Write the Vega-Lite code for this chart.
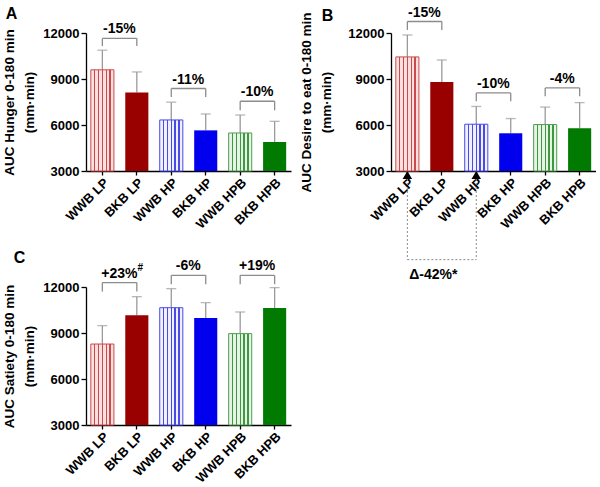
{
  "$schema": "https://vega.github.io/schema/vega-lite/v6.json",
  "padding": {"left": 2, "top": 5, "right": 0, "bottom": 0},
  "background": "white",
  "datasets": {
    "bars": [
      {"panel": "A", "group": "WWB LP", "value": 9600, "upper": 10880},
      {"panel": "A", "group": "BKB LP", "value": 8120, "upper": 9460},
      {"panel": "A", "group": "WWB HP", "value": 6330, "upper": 7490},
      {"panel": "A", "group": "BKB HP", "value": 5650, "upper": 6720},
      {"panel": "A", "group": "WWB HPB", "value": 5480, "upper": 6650},
      {"panel": "A", "group": "BKB HPB", "value": 4890, "upper": 6240},
      {"panel": "B", "group": "WWB LP", "value": 10440, "upper": 11870},
      {"panel": "B", "group": "BKB LP", "value": 8800, "upper": 10240},
      {"panel": "B", "group": "WWB HP", "value": 6050, "upper": 7210},
      {"panel": "B", "group": "BKB HP", "value": 5460, "upper": 6420},
      {"panel": "B", "group": "WWB HPB", "value": 6030, "upper": 7170},
      {"panel": "B", "group": "BKB HPB", "value": 5790, "upper": 7460},
      {"panel": "C", "group": "WWB LP", "value": 8280, "upper": 9480},
      {"panel": "C", "group": "BKB LP", "value": 10150, "upper": 11370},
      {"panel": "C", "group": "WWB HP", "value": 10650, "upper": 11890},
      {"panel": "C", "group": "BKB HP", "value": 9980, "upper": 10980},
      {"panel": "C", "group": "WWB HPB", "value": 8960, "upper": 10370},
      {"panel": "C", "group": "BKB HPB", "value": 10630, "upper": 11960}
    ],
    "brackets": [
      {"panel": "A", "g1": "WWB LP", "g2": "BKB LP", "y": 11650, "ylow": 11150, "label": "-15%", "sup": ""},
      {"panel": "A", "g1": "WWB HP", "g2": "BKB HP", "y": 8380, "ylow": 7830, "label": "-11%", "sup": ""},
      {"panel": "A", "g1": "WWB HPB", "g2": "BKB HPB", "y": 7550, "ylow": 6960, "label": "-10%", "sup": ""},
      {"panel": "B", "g1": "WWB LP", "g2": "BKB LP", "y": 12750, "ylow": 12200, "label": "-15%", "sup": ""},
      {"panel": "B", "g1": "WWB HP", "g2": "BKB HP", "y": 8090, "ylow": 7545, "label": "-10%", "sup": ""},
      {"panel": "B", "g1": "WWB HPB", "g2": "BKB HPB", "y": 8420, "ylow": 7875, "label": "-4%", "sup": ""},
      {"panel": "C", "g1": "WWB LP", "g2": "BKB LP", "y": 12290, "ylow": 11700, "label": "+23%", "sup": "#"},
      {"panel": "C", "g1": "WWB HP", "g2": "BKB HP", "y": 12760, "ylow": 12180, "label": "-6%", "sup": ""},
      {"panel": "C", "g1": "WWB HPB", "g2": "BKB HPB", "y": 12760, "ylow": 12180, "label": "+19%", "sup": ""}
    ],
    "annot": [
      {"g1": "WWB LP", "g2": "WWB HP", "y": 3000, "ylow": -2780, "label": "Δ-42%*"}
    ]
  },
  "hconcat": [
    {
      "spacing": 18,
      "vconcat": [
        {
          "width": 205, "height": 138,
          "title": {"text": "A", "anchor": "start", "frame": "bounds", "fontSize": 16, "fontWeight": "bold", "font": "Liberation Sans", "color": "#000", "offset": 0, "dx": 3},
          "layer": [
            {"data": {"name": "bars"}, "transform": [{"filter": "datum.panel=='A'"}],
             "mark": {"type": "rule", "color": "#9a9a9a", "strokeWidth": 1.3},
             "encoding": {
               "x": {"field": "group", "type": "nominal", "scale": {"domain": ["WWB LP","BKB LP","WWB HP","BKB HP","WWB HPB","BKB HPB"], "paddingInner": 0.33, "paddingOuter": 0.14}, "axis": {"title": null}},
               "y": {"field": "value", "type": "quantitative", "scale": {"domain": [3000, 12000], "nice": false, "zero": false}, "axis": {"title": ["AUC Hunger 0-180 min", "(mm·min)"], "values": [3000, 6000, 9000, 12000], "format": "d"}},
               "y2": {"field": "upper"}}},
            {"data": {"name": "bars"}, "transform": [{"filter": "datum.panel=='A'"}],
             "mark": {"type": "tick", "color": "#9a9a9a", "thickness": 1.3, "size": 10},
             "encoding": {
               "x": {"field": "group", "type": "nominal", "scale": {"domain": ["WWB LP","BKB LP","WWB HP","BKB HP","WWB HPB","BKB HPB"], "paddingInner": 0.33, "paddingOuter": 0.14}},
               "y": {"field": "upper", "type": "quantitative", "scale": {"domain": [3000, 12000], "nice": false, "zero": false}}}},
            {"data": {"name": "bars"}, "transform": [{"filter": "datum.panel=='A'"}],
             "mark": {"type": "bar", "strokeWidth": 1},
             "encoding": {
               "x": {"field": "group", "type": "nominal", "scale": {"domain": ["WWB LP","BKB LP","WWB HP","BKB HP","WWB HPB","BKB HPB"], "paddingInner": 0.33, "paddingOuter": 0.14}},
               "y": {"field": "value", "type": "quantitative", "scale": {"domain": [3000, 12000], "nice": false, "zero": false}},
               "y2": {"datum": 3000},
               "fill": {"condition": [
                 {"test": "datum.group=='BKB LP'", "value": "#990000"},
                 {"test": "datum.group=='BKB HP'", "value": "#0000ee"},
                 {"test": "datum.group=='BKB HPB'", "value": "#007a00"},
                 {"test": "datum.group=='WWB LP'", "value": {"gradient": "linear", "x1": 0, "y1": 0, "x2": 1, "y2": 0, "stops": [{"offset": 0, "color": "#f8e0e0"}, {"offset": 0.139, "color": "#f8e0e0"}, {"offset": 0.139, "color": "#cc4a4a"}, {"offset": 0.195, "color": "#cc4a4a"}, {"offset": 0.195, "color": "#f8e0e0"}, {"offset": 0.305, "color": "#f8e0e0"}, {"offset": 0.305, "color": "#cc4a4a"}, {"offset": 0.361, "color": "#cc4a4a"}, {"offset": 0.361, "color": "#f8e0e0"}, {"offset": 0.472, "color": "#f8e0e0"}, {"offset": 0.472, "color": "#cc4a4a"}, {"offset": 0.528, "color": "#cc4a4a"}, {"offset": 0.528, "color": "#f8e0e0"}, {"offset": 0.639, "color": "#f8e0e0"}, {"offset": 0.639, "color": "#cc4a4a"}, {"offset": 0.695, "color": "#cc4a4a"}, {"offset": 0.695, "color": "#f8e0e0"}, {"offset": 0.805, "color": "#f8e0e0"}, {"offset": 0.805, "color": "#cc4a4a"}, {"offset": 0.861, "color": "#cc4a4a"}, {"offset": 0.861, "color": "#f8e0e0"}, {"offset": 1, "color": "#f8e0e0"}]}},
                 {"test": "datum.group=='WWB HP'", "value": {"gradient": "linear", "x1": 0, "y1": 0, "x2": 1, "y2": 0, "stops": [{"offset": 0, "color": "#f0f0ff"}, {"offset": 0.139, "color": "#f0f0ff"}, {"offset": 0.139, "color": "#4a4ae6"}, {"offset": 0.195, "color": "#4a4ae6"}, {"offset": 0.195, "color": "#f0f0ff"}, {"offset": 0.305, "color": "#f0f0ff"}, {"offset": 0.305, "color": "#4a4ae6"}, {"offset": 0.361, "color": "#4a4ae6"}, {"offset": 0.361, "color": "#f0f0ff"}, {"offset": 0.472, "color": "#f0f0ff"}, {"offset": 0.472, "color": "#4a4ae6"}, {"offset": 0.528, "color": "#4a4ae6"}, {"offset": 0.528, "color": "#f0f0ff"}, {"offset": 0.639, "color": "#f0f0ff"}, {"offset": 0.639, "color": "#4a4ae6"}, {"offset": 0.695, "color": "#4a4ae6"}, {"offset": 0.695, "color": "#f0f0ff"}, {"offset": 0.805, "color": "#f0f0ff"}, {"offset": 0.805, "color": "#4a4ae6"}, {"offset": 0.861, "color": "#4a4ae6"}, {"offset": 0.861, "color": "#f0f0ff"}, {"offset": 1, "color": "#f0f0ff"}]}}
               ], "value": {"gradient": "linear", "x1": 0, "y1": 0, "x2": 1, "y2": 0, "stops": [{"offset": 0, "color": "#e6f3e6"}, {"offset": 0.139, "color": "#e6f3e6"}, {"offset": 0.139, "color": "#3f9a3f"}, {"offset": 0.195, "color": "#3f9a3f"}, {"offset": 0.195, "color": "#e6f3e6"}, {"offset": 0.305, "color": "#e6f3e6"}, {"offset": 0.305, "color": "#3f9a3f"}, {"offset": 0.361, "color": "#3f9a3f"}, {"offset": 0.361, "color": "#e6f3e6"}, {"offset": 0.472, "color": "#e6f3e6"}, {"offset": 0.472, "color": "#3f9a3f"}, {"offset": 0.528, "color": "#3f9a3f"}, {"offset": 0.528, "color": "#e6f3e6"}, {"offset": 0.639, "color": "#e6f3e6"}, {"offset": 0.639, "color": "#3f9a3f"}, {"offset": 0.695, "color": "#3f9a3f"}, {"offset": 0.695, "color": "#e6f3e6"}, {"offset": 0.805, "color": "#e6f3e6"}, {"offset": 0.805, "color": "#3f9a3f"}, {"offset": 0.861, "color": "#3f9a3f"}, {"offset": 0.861, "color": "#e6f3e6"}, {"offset": 1, "color": "#e6f3e6"}]}},
               "stroke": {"condition": [
                 {"test": "datum.group=='WWB LP'", "value": "#cc4a4a"},
                 {"test": "datum.group=='WWB HP'", "value": "#4a4ae6"},
                 {"test": "datum.group=='WWB HPB'", "value": "#4f9f4f"}
               ], "value": null}}},
            {"data": {"name": "brackets"}, "transform": [{"filter": "datum.panel=='A'"}],
             "mark": {"type": "rule", "color": "#8c8c8c", "strokeWidth": 1.3},
             "encoding": {
               "x": {"field": "g1", "type": "nominal", "scale": {"domain": ["WWB LP","BKB LP","WWB HP","BKB HP","WWB HPB","BKB HPB"], "paddingInner": 0.33, "paddingOuter": 0.14}},
               "x2": {"field": "g2"},
               "y": {"field": "y", "type": "quantitative", "scale": {"domain": [3000, 12000], "nice": false, "zero": false}}}},
            {"data": {"name": "brackets"}, "transform": [{"filter": "datum.panel=='A'"}],
             "mark": {"type": "rule", "color": "#8c8c8c", "strokeWidth": 1.3},
             "encoding": {
               "x": {"field": "g1", "type": "nominal", "scale": {"domain": ["WWB LP","BKB LP","WWB HP","BKB HP","WWB HPB","BKB HPB"], "paddingInner": 0.33, "paddingOuter": 0.14}},
               "y": {"field": "y", "type": "quantitative", "scale": {"domain": [3000, 12000], "nice": false, "zero": false}},
               "y2": {"field": "ylow"}}},
            {"data": {"name": "brackets"}, "transform": [{"filter": "datum.panel=='A'"}],
             "mark": {"type": "rule", "color": "#8c8c8c", "strokeWidth": 1.3},
             "encoding": {
               "x": {"field": "g2", "type": "nominal", "scale": {"domain": ["WWB LP","BKB LP","WWB HP","BKB HP","WWB HPB","BKB HPB"], "paddingInner": 0.33, "paddingOuter": 0.14}},
               "y": {"field": "y", "type": "quantitative", "scale": {"domain": [3000, 12000], "nice": false, "zero": false}},
               "y2": {"field": "ylow"}}},
            {"data": {"name": "brackets"}, "transform": [{"filter": "datum.panel=='A'"}],
             "mark": {"type": "text", "font": "Liberation Sans", "fontSize": 14, "fontWeight": "bold", "color": "#000", "dx": 17, "dy": -2, "baseline": "bottom", "align": "center"},
             "encoding": {
               "x": {"field": "g1", "type": "nominal", "scale": {"domain": ["WWB LP","BKB LP","WWB HP","BKB HP","WWB HPB","BKB HPB"], "paddingInner": 0.33, "paddingOuter": 0.14}},
               "y": {"field": "y", "type": "quantitative", "scale": {"domain": [3000, 12000], "nice": false, "zero": false}},
               "text": {"field": "label"}}}
          ]
        },
        {
          "width": 205, "height": 138,
          "title": {"text": "C", "anchor": "start", "frame": "bounds", "fontSize": 16, "fontWeight": "bold", "font": "Liberation Sans", "color": "#000", "offset": 0, "dx": 11, "dy": 7},
          "layer": [
            {"data": {"name": "bars"}, "transform": [{"filter": "datum.panel=='C'"}],
             "mark": {"type": "rule", "color": "#9a9a9a", "strokeWidth": 1.3},
             "encoding": {
               "x": {"field": "group", "type": "nominal", "scale": {"domain": ["WWB LP","BKB LP","WWB HP","BKB HP","WWB HPB","BKB HPB"], "paddingInner": 0.33, "paddingOuter": 0.14}, "axis": {"title": null}},
               "y": {"field": "value", "type": "quantitative", "scale": {"domain": [3000, 12000], "nice": false, "zero": false}, "axis": {"title": ["AUC Satiety 0-180 min", "(mm·min)"], "values": [3000, 6000, 9000, 12000], "format": "d"}},
               "y2": {"field": "upper"}}},
            {"data": {"name": "bars"}, "transform": [{"filter": "datum.panel=='C'"}],
             "mark": {"type": "tick", "color": "#9a9a9a", "thickness": 1.3, "size": 10},
             "encoding": {
               "x": {"field": "group", "type": "nominal", "scale": {"domain": ["WWB LP","BKB LP","WWB HP","BKB HP","WWB HPB","BKB HPB"], "paddingInner": 0.33, "paddingOuter": 0.14}},
               "y": {"field": "upper", "type": "quantitative", "scale": {"domain": [3000, 12000], "nice": false, "zero": false}}}},
            {"data": {"name": "bars"}, "transform": [{"filter": "datum.panel=='C'"}],
             "mark": {"type": "bar", "strokeWidth": 1},
             "encoding": {
               "x": {"field": "group", "type": "nominal", "scale": {"domain": ["WWB LP","BKB LP","WWB HP","BKB HP","WWB HPB","BKB HPB"], "paddingInner": 0.33, "paddingOuter": 0.14}},
               "y": {"field": "value", "type": "quantitative", "scale": {"domain": [3000, 12000], "nice": false, "zero": false}},
               "y2": {"datum": 3000},
               "fill": {"condition": [
                 {"test": "datum.group=='BKB LP'", "value": "#990000"},
                 {"test": "datum.group=='BKB HP'", "value": "#0000ee"},
                 {"test": "datum.group=='BKB HPB'", "value": "#007a00"},
                 {"test": "datum.group=='WWB LP'", "value": {"gradient": "linear", "x1": 0, "y1": 0, "x2": 1, "y2": 0, "stops": [{"offset": 0, "color": "#f8e0e0"}, {"offset": 0.139, "color": "#f8e0e0"}, {"offset": 0.139, "color": "#cc4a4a"}, {"offset": 0.195, "color": "#cc4a4a"}, {"offset": 0.195, "color": "#f8e0e0"}, {"offset": 0.305, "color": "#f8e0e0"}, {"offset": 0.305, "color": "#cc4a4a"}, {"offset": 0.361, "color": "#cc4a4a"}, {"offset": 0.361, "color": "#f8e0e0"}, {"offset": 0.472, "color": "#f8e0e0"}, {"offset": 0.472, "color": "#cc4a4a"}, {"offset": 0.528, "color": "#cc4a4a"}, {"offset": 0.528, "color": "#f8e0e0"}, {"offset": 0.639, "color": "#f8e0e0"}, {"offset": 0.639, "color": "#cc4a4a"}, {"offset": 0.695, "color": "#cc4a4a"}, {"offset": 0.695, "color": "#f8e0e0"}, {"offset": 0.805, "color": "#f8e0e0"}, {"offset": 0.805, "color": "#cc4a4a"}, {"offset": 0.861, "color": "#cc4a4a"}, {"offset": 0.861, "color": "#f8e0e0"}, {"offset": 1, "color": "#f8e0e0"}]}},
                 {"test": "datum.group=='WWB HP'", "value": {"gradient": "linear", "x1": 0, "y1": 0, "x2": 1, "y2": 0, "stops": [{"offset": 0, "color": "#f0f0ff"}, {"offset": 0.139, "color": "#f0f0ff"}, {"offset": 0.139, "color": "#4a4ae6"}, {"offset": 0.195, "color": "#4a4ae6"}, {"offset": 0.195, "color": "#f0f0ff"}, {"offset": 0.305, "color": "#f0f0ff"}, {"offset": 0.305, "color": "#4a4ae6"}, {"offset": 0.361, "color": "#4a4ae6"}, {"offset": 0.361, "color": "#f0f0ff"}, {"offset": 0.472, "color": "#f0f0ff"}, {"offset": 0.472, "color": "#4a4ae6"}, {"offset": 0.528, "color": "#4a4ae6"}, {"offset": 0.528, "color": "#f0f0ff"}, {"offset": 0.639, "color": "#f0f0ff"}, {"offset": 0.639, "color": "#4a4ae6"}, {"offset": 0.695, "color": "#4a4ae6"}, {"offset": 0.695, "color": "#f0f0ff"}, {"offset": 0.805, "color": "#f0f0ff"}, {"offset": 0.805, "color": "#4a4ae6"}, {"offset": 0.861, "color": "#4a4ae6"}, {"offset": 0.861, "color": "#f0f0ff"}, {"offset": 1, "color": "#f0f0ff"}]}}
               ], "value": {"gradient": "linear", "x1": 0, "y1": 0, "x2": 1, "y2": 0, "stops": [{"offset": 0, "color": "#e6f3e6"}, {"offset": 0.139, "color": "#e6f3e6"}, {"offset": 0.139, "color": "#3f9a3f"}, {"offset": 0.195, "color": "#3f9a3f"}, {"offset": 0.195, "color": "#e6f3e6"}, {"offset": 0.305, "color": "#e6f3e6"}, {"offset": 0.305, "color": "#3f9a3f"}, {"offset": 0.361, "color": "#3f9a3f"}, {"offset": 0.361, "color": "#e6f3e6"}, {"offset": 0.472, "color": "#e6f3e6"}, {"offset": 0.472, "color": "#3f9a3f"}, {"offset": 0.528, "color": "#3f9a3f"}, {"offset": 0.528, "color": "#e6f3e6"}, {"offset": 0.639, "color": "#e6f3e6"}, {"offset": 0.639, "color": "#3f9a3f"}, {"offset": 0.695, "color": "#3f9a3f"}, {"offset": 0.695, "color": "#e6f3e6"}, {"offset": 0.805, "color": "#e6f3e6"}, {"offset": 0.805, "color": "#3f9a3f"}, {"offset": 0.861, "color": "#3f9a3f"}, {"offset": 0.861, "color": "#e6f3e6"}, {"offset": 1, "color": "#e6f3e6"}]}},
               "stroke": {"condition": [
                 {"test": "datum.group=='WWB LP'", "value": "#cc4a4a"},
                 {"test": "datum.group=='WWB HP'", "value": "#4a4ae6"},
                 {"test": "datum.group=='WWB HPB'", "value": "#4f9f4f"}
               ], "value": null}}},
            {"data": {"name": "brackets"}, "transform": [{"filter": "datum.panel=='C'"}],
             "mark": {"type": "rule", "color": "#8c8c8c", "strokeWidth": 1.3},
             "encoding": {
               "x": {"field": "g1", "type": "nominal", "scale": {"domain": ["WWB LP","BKB LP","WWB HP","BKB HP","WWB HPB","BKB HPB"], "paddingInner": 0.33, "paddingOuter": 0.14}},
               "x2": {"field": "g2"},
               "y": {"field": "y", "type": "quantitative", "scale": {"domain": [3000, 12000], "nice": false, "zero": false}}}},
            {"data": {"name": "brackets"}, "transform": [{"filter": "datum.panel=='C'"}],
             "mark": {"type": "rule", "color": "#8c8c8c", "strokeWidth": 1.3},
             "encoding": {
               "x": {"field": "g1", "type": "nominal", "scale": {"domain": ["WWB LP","BKB LP","WWB HP","BKB HP","WWB HPB","BKB HPB"], "paddingInner": 0.33, "paddingOuter": 0.14}},
               "y": {"field": "y", "type": "quantitative", "scale": {"domain": [3000, 12000], "nice": false, "zero": false}},
               "y2": {"field": "ylow"}}},
            {"data": {"name": "brackets"}, "transform": [{"filter": "datum.panel=='C'"}],
             "mark": {"type": "rule", "color": "#8c8c8c", "strokeWidth": 1.3},
             "encoding": {
               "x": {"field": "g2", "type": "nominal", "scale": {"domain": ["WWB LP","BKB LP","WWB HP","BKB HP","WWB HPB","BKB HPB"], "paddingInner": 0.33, "paddingOuter": 0.14}},
               "y": {"field": "y", "type": "quantitative", "scale": {"domain": [3000, 12000], "nice": false, "zero": false}},
               "y2": {"field": "ylow"}}},
            {"data": {"name": "brackets"}, "transform": [{"filter": "datum.panel=='C'"}],
             "mark": {"type": "text", "font": "Liberation Sans", "fontSize": 14, "fontWeight": "bold", "color": "#000", "dx": 17, "dy": -2, "baseline": "bottom", "align": "center"},
             "encoding": {
               "x": {"field": "g1", "type": "nominal", "scale": {"domain": ["WWB LP","BKB LP","WWB HP","BKB HP","WWB HPB","BKB HPB"], "paddingInner": 0.33, "paddingOuter": 0.14}},
               "y": {"field": "y", "type": "quantitative", "scale": {"domain": [3000, 12000], "nice": false, "zero": false}},
               "text": {"field": "label"}}},
            {"data": {"name": "brackets"}, "transform": [{"filter": "datum.panel=='C' && datum.sup != ''"}],
             "mark": {"type": "text", "font": "Liberation Sans", "fontSize": 10, "fontWeight": "bold", "color": "#000", "dx": 38, "dy": -10, "baseline": "bottom", "align": "center"},
             "encoding": {
               "x": {"field": "g1", "type": "nominal", "scale": {"domain": ["WWB LP","BKB LP","WWB HP","BKB HP","WWB HPB","BKB HPB"], "paddingInner": 0.33, "paddingOuter": 0.14}},
               "y": {"field": "y", "type": "quantitative", "scale": {"domain": [3000, 12000], "nice": false, "zero": false}},
               "text": {"field": "sup"}}}
          ]
        }
      ]
    },
    {
      "width": 205, "height": 138,
      "title": {"text": "B", "anchor": "start", "frame": "bounds", "fontSize": 16, "fontWeight": "bold", "font": "Liberation Sans", "color": "#000", "offset": 0, "dx": 22, "dy": 18},
      "layer": [
        {"data": {"name": "bars"}, "transform": [{"filter": "datum.panel=='B'"}],
         "mark": {"type": "rule", "color": "#9a9a9a", "strokeWidth": 1.3},
         "encoding": {
           "x": {"field": "group", "type": "nominal", "scale": {"domain": ["WWB LP","BKB LP","WWB HP","BKB HP","WWB HPB","BKB HPB"], "paddingInner": 0.33, "paddingOuter": 0.14}, "axis": {"title": null}},
           "y": {"field": "value", "type": "quantitative", "scale": {"domain": [3000, 12000], "nice": false, "zero": false}, "axis": {"title": ["AUC Desire to eat 0-180 min", "(mm·min)"], "values": [3000, 6000, 9000, 12000], "format": "d", "titlePadding": 14}},
           "y2": {"field": "upper"}}},
        {"data": {"name": "bars"}, "transform": [{"filter": "datum.panel=='B'"}],
         "mark": {"type": "tick", "color": "#9a9a9a", "thickness": 1.3, "size": 10},
         "encoding": {
           "x": {"field": "group", "type": "nominal", "scale": {"domain": ["WWB LP","BKB LP","WWB HP","BKB HP","WWB HPB","BKB HPB"], "paddingInner": 0.33, "paddingOuter": 0.14}},
           "y": {"field": "upper", "type": "quantitative", "scale": {"domain": [3000, 12000], "nice": false, "zero": false}}}},
        {"data": {"name": "bars"}, "transform": [{"filter": "datum.panel=='B'"}],
         "mark": {"type": "bar", "strokeWidth": 1},
         "encoding": {
           "x": {"field": "group", "type": "nominal", "scale": {"domain": ["WWB LP","BKB LP","WWB HP","BKB HP","WWB HPB","BKB HPB"], "paddingInner": 0.33, "paddingOuter": 0.14}},
           "y": {"field": "value", "type": "quantitative", "scale": {"domain": [3000, 12000], "nice": false, "zero": false}},
           "y2": {"datum": 3000},
           "fill": {"condition": [
             {"test": "datum.group=='BKB LP'", "value": "#990000"},
             {"test": "datum.group=='BKB HP'", "value": "#0000ee"},
             {"test": "datum.group=='BKB HPB'", "value": "#007a00"},
             {"test": "datum.group=='WWB LP'", "value": {"gradient": "linear", "x1": 0, "y1": 0, "x2": 1, "y2": 0, "stops": [{"offset": 0, "color": "#f8e0e0"}, {"offset": 0.139, "color": "#f8e0e0"}, {"offset": 0.139, "color": "#cc4a4a"}, {"offset": 0.195, "color": "#cc4a4a"}, {"offset": 0.195, "color": "#f8e0e0"}, {"offset": 0.305, "color": "#f8e0e0"}, {"offset": 0.305, "color": "#cc4a4a"}, {"offset": 0.361, "color": "#cc4a4a"}, {"offset": 0.361, "color": "#f8e0e0"}, {"offset": 0.472, "color": "#f8e0e0"}, {"offset": 0.472, "color": "#cc4a4a"}, {"offset": 0.528, "color": "#cc4a4a"}, {"offset": 0.528, "color": "#f8e0e0"}, {"offset": 0.639, "color": "#f8e0e0"}, {"offset": 0.639, "color": "#cc4a4a"}, {"offset": 0.695, "color": "#cc4a4a"}, {"offset": 0.695, "color": "#f8e0e0"}, {"offset": 0.805, "color": "#f8e0e0"}, {"offset": 0.805, "color": "#cc4a4a"}, {"offset": 0.861, "color": "#cc4a4a"}, {"offset": 0.861, "color": "#f8e0e0"}, {"offset": 1, "color": "#f8e0e0"}]}},
             {"test": "datum.group=='WWB HP'", "value": {"gradient": "linear", "x1": 0, "y1": 0, "x2": 1, "y2": 0, "stops": [{"offset": 0, "color": "#f0f0ff"}, {"offset": 0.139, "color": "#f0f0ff"}, {"offset": 0.139, "color": "#4a4ae6"}, {"offset": 0.195, "color": "#4a4ae6"}, {"offset": 0.195, "color": "#f0f0ff"}, {"offset": 0.305, "color": "#f0f0ff"}, {"offset": 0.305, "color": "#4a4ae6"}, {"offset": 0.361, "color": "#4a4ae6"}, {"offset": 0.361, "color": "#f0f0ff"}, {"offset": 0.472, "color": "#f0f0ff"}, {"offset": 0.472, "color": "#4a4ae6"}, {"offset": 0.528, "color": "#4a4ae6"}, {"offset": 0.528, "color": "#f0f0ff"}, {"offset": 0.639, "color": "#f0f0ff"}, {"offset": 0.639, "color": "#4a4ae6"}, {"offset": 0.695, "color": "#4a4ae6"}, {"offset": 0.695, "color": "#f0f0ff"}, {"offset": 0.805, "color": "#f0f0ff"}, {"offset": 0.805, "color": "#4a4ae6"}, {"offset": 0.861, "color": "#4a4ae6"}, {"offset": 0.861, "color": "#f0f0ff"}, {"offset": 1, "color": "#f0f0ff"}]}}
           ], "value": {"gradient": "linear", "x1": 0, "y1": 0, "x2": 1, "y2": 0, "stops": [{"offset": 0, "color": "#e6f3e6"}, {"offset": 0.139, "color": "#e6f3e6"}, {"offset": 0.139, "color": "#3f9a3f"}, {"offset": 0.195, "color": "#3f9a3f"}, {"offset": 0.195, "color": "#e6f3e6"}, {"offset": 0.305, "color": "#e6f3e6"}, {"offset": 0.305, "color": "#3f9a3f"}, {"offset": 0.361, "color": "#3f9a3f"}, {"offset": 0.361, "color": "#e6f3e6"}, {"offset": 0.472, "color": "#e6f3e6"}, {"offset": 0.472, "color": "#3f9a3f"}, {"offset": 0.528, "color": "#3f9a3f"}, {"offset": 0.528, "color": "#e6f3e6"}, {"offset": 0.639, "color": "#e6f3e6"}, {"offset": 0.639, "color": "#3f9a3f"}, {"offset": 0.695, "color": "#3f9a3f"}, {"offset": 0.695, "color": "#e6f3e6"}, {"offset": 0.805, "color": "#e6f3e6"}, {"offset": 0.805, "color": "#3f9a3f"}, {"offset": 0.861, "color": "#3f9a3f"}, {"offset": 0.861, "color": "#e6f3e6"}, {"offset": 1, "color": "#e6f3e6"}]}},
           "stroke": {"condition": [
             {"test": "datum.group=='WWB LP'", "value": "#cc4a4a"},
             {"test": "datum.group=='WWB HP'", "value": "#4a4ae6"},
             {"test": "datum.group=='WWB HPB'", "value": "#4f9f4f"}
           ], "value": null}}},
        {"data": {"name": "brackets"}, "transform": [{"filter": "datum.panel=='B'"}],
         "mark": {"type": "rule", "color": "#8c8c8c", "strokeWidth": 1.3},
         "encoding": {
           "x": {"field": "g1", "type": "nominal", "scale": {"domain": ["WWB LP","BKB LP","WWB HP","BKB HP","WWB HPB","BKB HPB"], "paddingInner": 0.33, "paddingOuter": 0.14}},
           "x2": {"field": "g2"},
           "y": {"field": "y", "type": "quantitative", "scale": {"domain": [3000, 12000], "nice": false, "zero": false}}}},
        {"data": {"name": "brackets"}, "transform": [{"filter": "datum.panel=='B'"}],
         "mark": {"type": "rule", "color": "#8c8c8c", "strokeWidth": 1.3},
         "encoding": {
           "x": {"field": "g1", "type": "nominal", "scale": {"domain": ["WWB LP","BKB LP","WWB HP","BKB HP","WWB HPB","BKB HPB"], "paddingInner": 0.33, "paddingOuter": 0.14}},
           "y": {"field": "y", "type": "quantitative", "scale": {"domain": [3000, 12000], "nice": false, "zero": false}},
           "y2": {"field": "ylow"}}},
        {"data": {"name": "brackets"}, "transform": [{"filter": "datum.panel=='B'"}],
         "mark": {"type": "rule", "color": "#8c8c8c", "strokeWidth": 1.3},
         "encoding": {
           "x": {"field": "g2", "type": "nominal", "scale": {"domain": ["WWB LP","BKB LP","WWB HP","BKB HP","WWB HPB","BKB HPB"], "paddingInner": 0.33, "paddingOuter": 0.14}},
           "y": {"field": "y", "type": "quantitative", "scale": {"domain": [3000, 12000], "nice": false, "zero": false}},
           "y2": {"field": "ylow"}}},
        {"data": {"name": "brackets"}, "transform": [{"filter": "datum.panel=='B'"}],
         "mark": {"type": "text", "font": "Liberation Sans", "fontSize": 14, "fontWeight": "bold", "color": "#000", "dx": 17, "dy": -2, "baseline": "bottom", "align": "center"},
         "encoding": {
           "x": {"field": "g1", "type": "nominal", "scale": {"domain": ["WWB LP","BKB LP","WWB HP","BKB HP","WWB HPB","BKB HPB"], "paddingInner": 0.33, "paddingOuter": 0.14}},
           "y": {"field": "y", "type": "quantitative", "scale": {"domain": [3000, 12000], "nice": false, "zero": false}},
           "text": {"field": "label"}}},
        {"data": {"name": "annot"},
         "mark": {"type": "rule", "color": "#8c8c8c", "strokeWidth": 1, "strokeDash": [2, 2]},
         "encoding": {
           "x": {"field": "g1", "type": "nominal", "scale": {"domain": ["WWB LP","BKB LP","WWB HP","BKB HP","WWB HPB","BKB HPB"], "paddingInner": 0.33, "paddingOuter": 0.14}},
           "y": {"field": "y", "type": "quantitative", "scale": {"domain": [3000, 12000], "nice": false, "zero": false}},
           "y2": {"field": "ylow"}}},
        {"data": {"name": "annot"},
         "mark": {"type": "rule", "color": "#8c8c8c", "strokeWidth": 1, "strokeDash": [2, 2]},
         "encoding": {
           "x": {"field": "g2", "type": "nominal", "scale": {"domain": ["WWB LP","BKB LP","WWB HP","BKB HP","WWB HPB","BKB HPB"], "paddingInner": 0.33, "paddingOuter": 0.14}},
           "y": {"field": "y", "type": "quantitative", "scale": {"domain": [3000, 12000], "nice": false, "zero": false}},
           "y2": {"field": "ylow"}}},
        {"data": {"name": "annot"},
         "mark": {"type": "rule", "color": "#8c8c8c", "strokeWidth": 1, "strokeDash": [2, 2]},
         "encoding": {
           "x": {"field": "g1", "type": "nominal", "scale": {"domain": ["WWB LP","BKB LP","WWB HP","BKB HP","WWB HPB","BKB HPB"], "paddingInner": 0.33, "paddingOuter": 0.14}},
           "x2": {"field": "g2"},
           "y": {"field": "ylow", "type": "quantitative", "scale": {"domain": [3000, 12000], "nice": false, "zero": false}}}},
        {"data": {"name": "annot"},
         "mark": {"type": "point", "shape": "triangle-up", "filled": true, "color": "#000", "size": 90, "opacity": 1, "yOffset": 4},
         "encoding": {
           "x": {"field": "g1", "type": "nominal", "scale": {"domain": ["WWB LP","BKB LP","WWB HP","BKB HP","WWB HPB","BKB HPB"], "paddingInner": 0.33, "paddingOuter": 0.14}},
           "y": {"field": "y", "type": "quantitative", "scale": {"domain": [3000, 12000], "nice": false, "zero": false}}}},
        {"data": {"name": "annot"},
         "mark": {"type": "point", "shape": "triangle-up", "filled": true, "color": "#000", "size": 90, "opacity": 1, "yOffset": 4},
         "encoding": {
           "x": {"field": "g2", "type": "nominal", "scale": {"domain": ["WWB LP","BKB LP","WWB HP","BKB HP","WWB HPB","BKB HPB"], "paddingInner": 0.33, "paddingOuter": 0.14}},
           "y": {"field": "y", "type": "quantitative", "scale": {"domain": [3000, 12000], "nice": false, "zero": false}}}},
        {"data": {"name": "annot"},
         "mark": {"type": "text", "font": "Liberation Sans", "fontSize": 14, "fontWeight": "bold", "color": "#000", "dx": 26, "dy": 8, "baseline": "top", "align": "center"},
         "encoding": {
           "x": {"field": "g1", "type": "nominal", "scale": {"domain": ["WWB LP","BKB LP","WWB HP","BKB HP","WWB HPB","BKB HPB"], "paddingInner": 0.33, "paddingOuter": 0.14}},
           "y": {"field": "ylow", "type": "quantitative", "scale": {"domain": [3000, 12000], "nice": false, "zero": false}},
           "text": {"field": "label"}}}
      ]
    }
  ],
  "spacing": 8,
  "config": {
    "view": {"stroke": null},
    "font": "Liberation Sans",
    "axis": {
      "labelFont": "Liberation Sans", "titleFont": "Liberation Sans",
      "labelFontWeight": "bold", "titleFontWeight": "bold",
      "labelColor": "#000", "titleColor": "#000",
      "domainColor": "#000", "tickColor": "#000",
      "domainWidth": 1.3, "tickWidth": 1.3, "grid": false,
      "labelFontSize": 13, "titleFontSize": 13.5, "titleLineHeight": 20
    },
    "axisX": {"labelAngle": -45, "tickSize": 4, "labelPadding": 1, "labelFontSize": 13},
    "axisY": {"tickSize": 5, "titlePadding": 6, "labelPadding": 2}
  }
}
